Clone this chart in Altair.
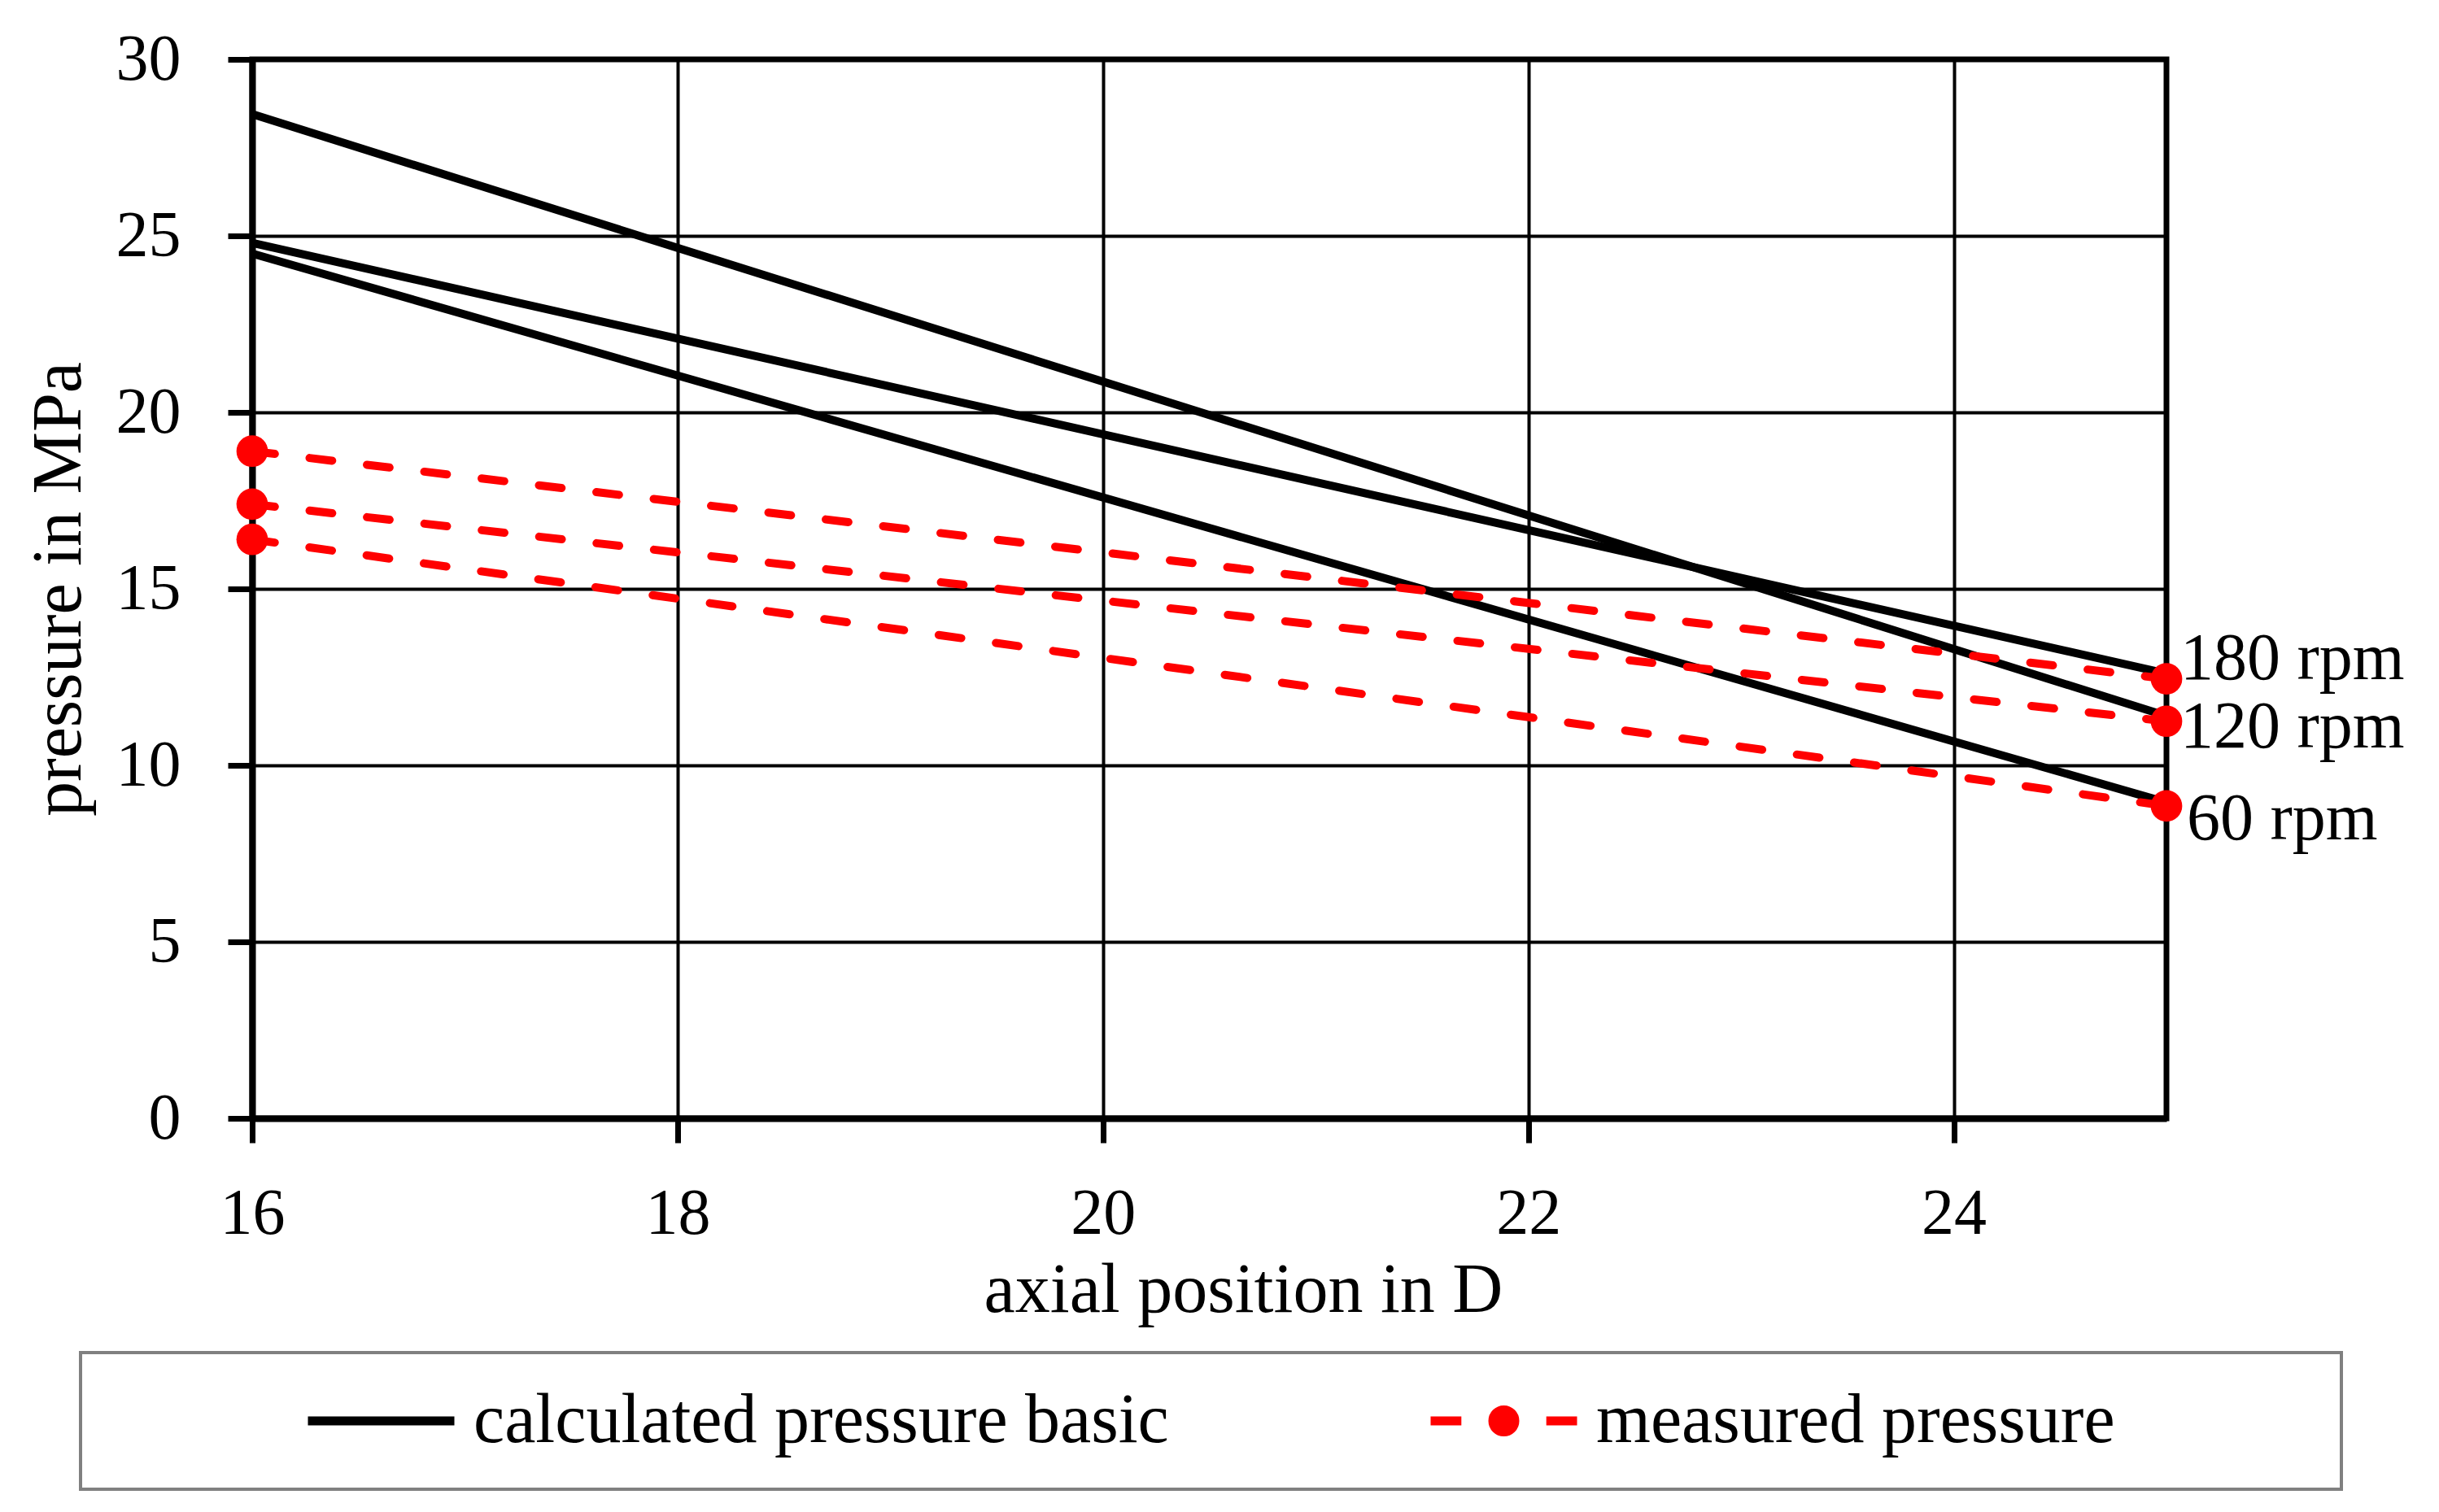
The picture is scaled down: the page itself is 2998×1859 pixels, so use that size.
import altair as alt
import pandas as pd

# axial positions (in D) where the pressure is given
x_pos = [16, 25]

# calculated pressure basic, MPa
calc_60 = [24.5, 8.95]
calc_120 = [28.45, 11.4]
calc_180 = [24.8, 12.6]

# measured pressure, MPa
meas_60 = [16.4, 8.85]
meas_120 = [17.4, 11.25]
meas_180 = [18.9, 12.45]

rpm = ["60 rpm", "120 rpm", "180 rpm"]
series = ["calculated pressure basic", "measured pressure"]

x_ticks = [16, 18, 20, 22, 24]
y_ticks = [0, 5, 10, 15, 20, 25, 30]

FONT = "Liberation Serif"

rows = []
for name, vals in zip(rpm, [calc_60, calc_120, calc_180]):
    for x, v in zip(x_pos, vals):
        rows.append({"pos": x, "pressure": v, "rpm": name, "series": series[0]})
calc_df = pd.DataFrame(rows)

rows = []
for name, vals in zip(rpm, [meas_60, meas_120, meas_180]):
    for x, v in zip(x_pos, vals):
        rows.append({"pos": x, "pressure": v, "rpm": name, "series": series[1]})
meas_df = pd.DataFrame(rows)

x_enc = alt.X(
    "pos:Q",
    scale=alt.Scale(domain=[16, 25], nice=False, zero=False),
    axis=alt.Axis(
        values=x_ticks, title="axial position in D", grid=True,
        gridColor="black", gridWidth=4, domainColor="black", domainWidth=8,
        tickColor="black", tickWidth=7, tickSize=30, labelFlush=False,
        labelFontSize=80, labelPadding=48, labelColor="black",
        titleFontSize=86, titleFontWeight="normal", titleColor="black",
        titleBaseline="alphabetic", titleX=1218, titleY=237,
    ),
)
y_enc = alt.Y(
    "pressure:Q",
    scale=alt.Scale(domain=[0, 30], nice=False),
    axis=alt.Axis(
        values=y_ticks, title="pressure in MPa", grid=True,
        gridColor="black", gridWidth=4, domainColor="black", domainWidth=8,
        tickColor="black", tickWidth=7, tickSize=30, labelFlush=False,
        labelFontSize=80, labelPadding=58, labelColor="black",
        titleFontSize=86, titleFontWeight="normal", titleColor="black",
        titleBaseline="alphabetic", titleX=-212,
    ),
)

# legend symbol for the measured series: dash, dot, dash
dash_dot = ("M-1,0L-0.58,0M0.58,0L1,0"
            "M-0.15,0A0.15,0.15 0 1,0 0.15,0A0.15,0.15 0 1,0 -0.15,0Z"
            "M-0.06,0A0.06,0.06 0 1,0 0.06,0A0.06,0.06 0 1,0 -0.06,0Z")
# trailing blanks widen the legend box on the right (zero-width space stops the trim)
pad_right = "\u00a0" * 11 + "\u200b"

color_enc = alt.Color(
    "series:N",
    scale=alt.Scale(domain=series, range=["black", "red"]),
    legend=alt.Legend(
        title=None, orient="none", legendX=-211, legendY=1590,
        direction="horizontal", padding=41, strokeColor="#808080",
        labelFontSize=86, labelColor="black", labelLimit=3000, labelOffset=18,
        symbolSize=32400, symbolStrokeWidth=11, symbolOffset=233,
        columnPadding=83, clipHeight=86,
        symbolType={"expr": "datum.value == 'measured pressure' ? '" + dash_dot + "' : 'stroke'"},
        labelExpr="datum.value == 'measured pressure' ? datum.label + '" + pad_right + "' : datum.label",
    ),
)

calc_lines = alt.Chart(calc_df).mark_line(strokeWidth=10).encode(
    x=x_enc, y=y_enc, color=color_enc, detail="rpm:N"
)

meas_lines = alt.Chart(meas_df).mark_line(
    strokeWidth=10, strokeDash=[28, 43], strokeCap="round"
).encode(x=x_enc, y=y_enc, color=color_enc, detail="rpm:N")

meas_points = alt.Chart(meas_df).mark_circle(
    size=1500, color="red", opacity=1
).encode(x=x_enc, y=y_enc)

end_df = meas_df[meas_df["pos"] == 25]
labels = []
for name, dx, dy in zip(rpm, [25, 17, 17], [16, 7, -25]):
    labels.append(
        alt.Chart(end_df[end_df["rpm"] == name]).mark_text(
            align="left", baseline="middle", dx=dx, dy=dy,
            fontSize=82, color="black"
        ).encode(x=x_enc, y=y_enc, text="rpm:N")
    )

chart = alt.layer(calc_lines, meas_lines, meas_points, *labels).properties(
    width=2353,
    height=1302,
    autosize=alt.AutoSizeParams(type="none"),
    padding={"left": 302, "top": 65, "right": 300, "bottom": 470},
).configure(
    font=FONT
).configure_view(
    stroke="black", strokeWidth=7
).configure_legend(
    strokeWidth=4
)

chart.save("out.html", embed_options={"renderer": "svg", "actions": False})
